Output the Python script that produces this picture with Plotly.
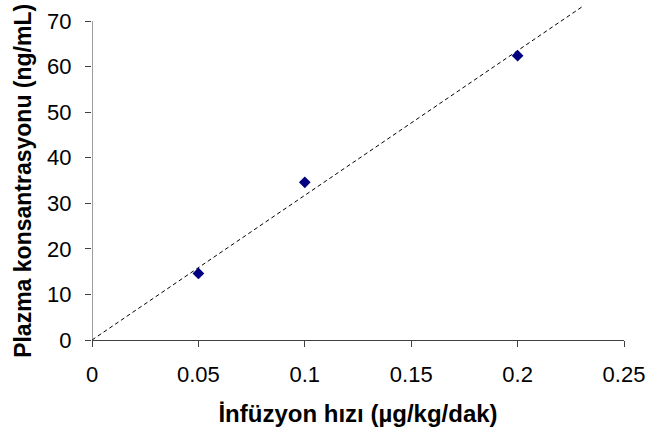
import numpy as np
import plotly.graph_objects as go

# Data
infusion_rate = [0.05, 0.1, 0.2]          # µg/kg/dak
plasma_conc = [14.6, 34.6, 62.4]          # ng/mL
x_tickvals = [0, 0.05, 0.1, 0.15, 0.2, 0.25]
x_ticktext = ["0", "0.05", "0.1", "0.15", "0.2", "0.25"]
y_tickvals = [0, 10, 20, 30, 40, 50, 60, 70]
y_ticktext = ["0", "10", "20", "30", "40", "50", "60", "70"]

x_title = "İnfüzyon hızı (µg/kg/dak)"
y_title = "Plazma konsantrasyonu (ng/mL)"

Y_TOP = 73.3

# Linear trendline through the origin (least squares)
xa = np.array(infusion_rate)
ya = np.array(plasma_conc)
slope = float((xa * ya).sum() / (xa * xa).sum())
trend_x = [0, Y_TOP / slope]
trend_y = [slope * v for v in trend_x]

FONT = "Arial, 'Liberation Sans', sans-serif"
AXIS_COLOR = "#404040"

fig = go.Figure()
fig.add_trace(go.Scatter(
    x=trend_x, y=trend_y, mode="lines",
    line=dict(color="black", width=1, dash="4px,3px"),
    hoverinfo="skip", showlegend=False,
))
fig.add_trace(go.Scatter(
    x=infusion_rate, y=plasma_conc, mode="markers",
    marker=dict(symbol="diamond", size=9, color="#000080",
                line=dict(width=0)),
    showlegend=False,
))

# y axis line only up to the last tick
fig.add_shape(type="line", xref="x", yref="y", x0=0, x1=0,
              y0=y_tickvals[0], y1=y_tickvals[-1],
              line=dict(color=AXIS_COLOR, width=1))

# y axis title as a rotated annotation (centred like the reference)
fig.add_annotation(
    text="<b>" + y_title + "</b>", textangle=-90,
    xref="paper", yref="paper", x=-0.13, y=0.476,
    xanchor="center", yanchor="middle", showarrow=False,
    font=dict(size=23, family=FONT, color="black"),
)

fig.update_layout(
    width=651, height=436,
    margin=dict(l=92, r=27, t=6, b=96),
    paper_bgcolor="white", plot_bgcolor="white",
    font=dict(family=FONT, color="black", size=22),
    xaxis=dict(
        range=[0, 0.25], tickvals=x_tickvals, ticktext=x_ticktext,
        showgrid=False, zeroline=False, automargin=False,
        showline=True, linecolor=AXIS_COLOR, linewidth=1,
        ticks="outside", ticklen=6, tickcolor=AXIS_COLOR,
        ticklabelstandoff=9,
        tickfont=dict(size=22, family=FONT),
        title=dict(text="<b>" + x_title + "</b>",
                   font=dict(size=24, family=FONT), standoff=18),
    ),
    yaxis=dict(
        range=[0, Y_TOP], tickvals=y_tickvals, ticktext=y_ticktext,
        showgrid=False, zeroline=False, showline=False, automargin=False,
        ticks="outside", ticklen=6, tickcolor=AXIS_COLOR,
        ticklabelstandoff=9,
        tickfont=dict(size=22, family=FONT),
    ),
)

fig.write_html("out.html", config={"displayModeBar": False},
               post_script="document.body.style.margin='0';")
